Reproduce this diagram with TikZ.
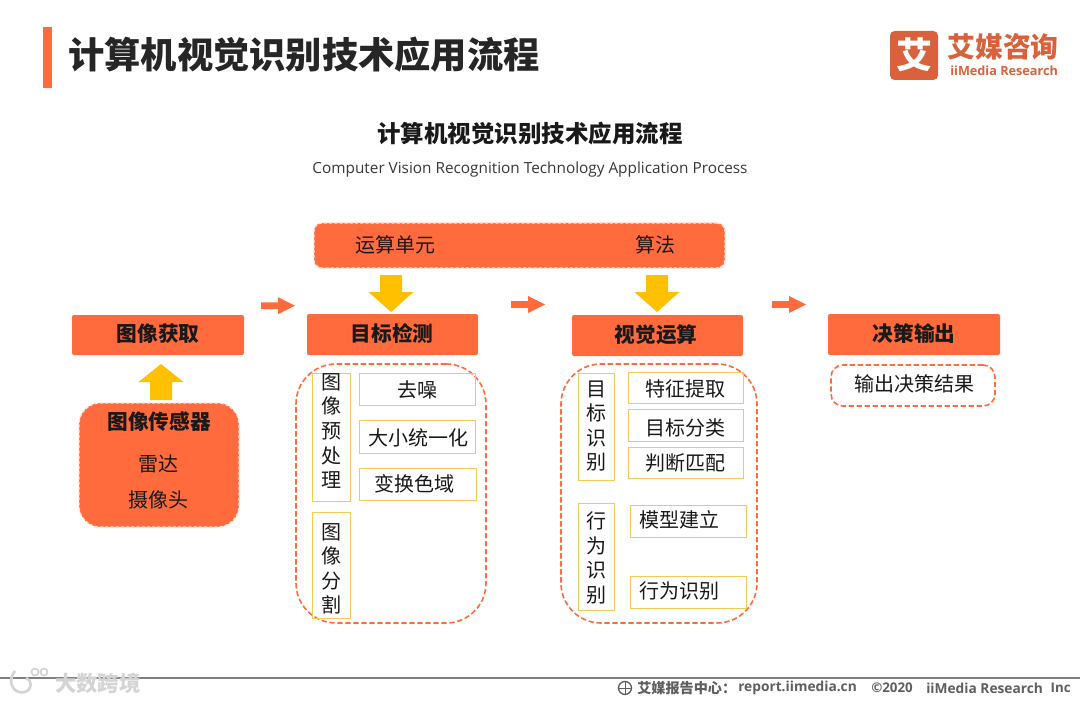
\documentclass[tikz,border=0pt]{standalone}
\usepackage{fontspec}
\setmainfont{Noto Sans CJK SC}
\newfontfamily\latinf{Open Sans}
\usetikzlibrary{calc}
\definecolor{org}{HTML}{FF6B3D}
\definecolor{ylw}{HTML}{F3C95A}
\definecolor{gld}{HTML}{FFC000}
\definecolor{logoc}{HTML}{D9623C}
\definecolor{foot}{HTML}{5F5F5F}
\definecolor{wm}{HTML}{D4D4D4}
\tikzset{
  x=0.75pt,y=-0.75pt,
  solidbox/.style={fill=org,rounded corners=1.5pt,inner sep=0pt},
  panelbox/.style={fill=org,draw=white!80!org,line width=1pt,dash pattern=on 2.5pt off 1.4pt,inner sep=0pt},
  framebox/.style={draw=org,line width=1.2pt,dash pattern=on 4pt off 2pt,inner sep=0pt},
  itembox/.style={draw=ylw,line width=0.75pt,inner sep=0pt},
  lab/.style={inner sep=0pt,font=\fontsize{15}{18.4}\selectfont,align=center,text=black!90},
  blab/.style={lab,font=\fontsize{15.5}{18.4}\selectfont\bfseries},
  smallarrow/.style={fill=org},
  bigarrow/.style={fill=gld}
}
% name, style, x1,y1,x2,y2
\newcommand{\bx}[6]{%
  \pgfmathsetmacro{\bw}{(#5-#3)*0.75}\pgfmathsetmacro{\bh}{(#6-#4)*0.75}%
  \node[#2,minimum width=\bw pt,minimum height=\bh pt] (#1) at ({(#3+#5)/2},{(#4+#6)/2}) {};}
% tip coordinate name, tip x, tip y
\newcommand{\rarrow}[3]{%
  \coordinate (#1) at (#2,#3);
  \fill[smallarrow] (#1) -- ++(-17,-8.5) -- ++(0,5.2) -- ++(-17,0) -- ++(0,6.6) -- ++(17,0) -- ++(0,5.2) -- cycle;}
\newcommand{\darrow}[3]{%
  \coordinate (#1) at (#2,#3);
  \fill[bigarrow] (#1) -- ++(-22.5,-20) -- ++(11.5,0) -- ++(0,-17) -- ++(22,0) -- ++(0,17) -- ++(11.5,0) -- cycle;}
\newcommand{\uarrow}[3]{%
  \coordinate (#1) at (#2,#3);
  \fill[bigarrow] (#1) -- ++(-22.5,18) -- ++(11.5,0) -- ++(0,18) -- ++(22,0) -- ++(0,-18) -- ++(11.5,0) -- cycle;}
\begin{document}
\begin{tikzpicture}
\useasboundingbox (0,0) rectangle (1080,702);
\fill[white] (0,0) rectangle (1080,702);
% header
\bx{bar}{fill=org,inner sep=0pt}{43}{27}{52}{88}
\node[inner sep=0pt,anchor=west,font=\fontsize{27.2}{30}\selectfont\bfseries,text=black!85] (title) at (68,55) {计算机视觉识别技术应用流程};
% logo
\bx{logosq}{fill=logoc,rounded corners=3.5pt,inner sep=0pt}{890}{31}{938}{80}
\node[inner sep=0pt,text=white,font=\fontsize{27}{30}\selectfont\bfseries] (logochar) at (914,55) {艾};
\node[inner sep=0pt,anchor=west,text=logoc,font=\fontsize{20.9}{24}\selectfont\bfseries] (logocn) at (947,47) {艾媒咨询};
\node[inner sep=0pt,anchor=west,text=logoc,font=\latinf\fontsize{9.5}{12}\selectfont\bfseries] (logoen) at (950,71) {iiMedia Research};
% subtitle
\node[inner sep=0pt,font=\fontsize{17.6}{20}\selectfont\bfseries,text=black!90] (sub) at (530,134) {计算机视觉识别技术应用流程};
\node[inner sep=0pt,font=\latinf\fontsize{11.5}{14}\selectfont,text=black!78] (suben) at (530,170) {Computer Vision Recognition Technology Application Process};
% top panel
\bx{top}{panelbox,rounded corners=6pt}{314}{223}{725}{268}
\node[lab] (t1) at (395,245) {运算单元};
\node[lab] (t2) at (655,245) {算法};
% headers
\bx{h1}{solidbox}{72}{315}{244}{355}
\node[blab] (h1t) at (158,334) {图像获取};
\bx{h2}{solidbox}{307}{314}{478}{355}
\node[blab] (h2t) at (392,334) {目标检测};
\bx{h3}{solidbox}{572}{315}{743}{356}
\node[blab] (h3t) at (656,335) {视觉运算};
\bx{h4}{solidbox}{828}{314}{1000}{355}
\node[blab] (h4t) at (914,334) {决策输出};
% arrows
\rarrow{a1}{295}{305.7}
\rarrow{a2}{545}{304.5}
\rarrow{a3}{806}{304.5}
\darrow{d1}{391}{312}
\darrow{d2}{657}{312}
\uarrow{u1}{161}{364}
% sensor panel
\bx{sensor}{panelbox,rounded corners=16pt}{79}{403}{239}{527}
\node[blab] (s0) at (159,422) {图像传感器};
\node[lab] (s1) at (158,464) {雷达};
\node[lab] (s2) at (158,500) {摄像头};
% frames
\bx{f1}{framebox,rounded corners=30pt}{296}{364}{486}{623}
\bx{f2}{framebox,rounded corners=30pt}{561}{364}{757}{623}
\bx{f3}{framebox,rounded corners=9pt}{831}{365}{995}{406}
\node[lab] (f3t) at (914,384) {输出决策结果};
% left items
\bx{b1}{itembox}{312}{373}{350}{501}
\node[lab] (b1t) at (331,431) {图\\像\\预\\处\\理};
\bx{b2}{itembox}{312}{512}{350}{618}
\node[lab] (b2t) at (331,569) {图\\像\\分\\割};
\bx{b3}{itembox}{359}{373}{475}{405}
\node[lab] (b3t) at (417,390) {去噪};
\bx{b4}{itembox}{359}{420}{475}{453}
\node[lab] (b4t) at (418,438) {大小统一化};
\bx{b5}{itembox}{359}{468}{476}{500}
\node[lab] (b5t) at (414,484) {变换色域};
% right items
\bx{c1}{itembox}{578}{373}{614}{480}
\node[lab] (c1t) at (596,426) {目\\标\\识\\别};
\bx{c2}{itembox}{578}{503}{614}{610}
\node[lab] (c2t) at (596,558) {行\\为\\识\\别};
\bx{c3}{itembox}{628}{372}{743}{403}
\node[lab] (c3t) at (685,389) {特征提取};
\bx{c4}{itembox}{628}{409}{743}{441}
\node[lab] (c4t) at (685,428) {目标分类};
\bx{c5}{itembox}{628}{447}{743}{478}
\node[lab] (c5t) at (685,463) {判断匹配};
\bx{c6}{itembox}{630}{505}{746}{537}
\node[lab] (c6t) at (679,520) {模型建立};
\bx{c7}{itembox}{630}{576}{746}{608}
\node[lab] (c7t) at (679,591) {行为识别};
% footer
\coordinate (fl) at (0,678);
\coordinate (fr) at (1080,678);
\draw[black!50,line width=1.4pt] (fl) -- (fr);
\node[inner sep=0pt,anchor=west,text=wm,font=\fontsize{16}{18}\selectfont\bfseries] (wmk) at (55,683) {大数跨境};
\draw[wm,line width=2pt] (15,671) .. controls (6,682) and (14,695) .. (25,692) .. controls (33,689) and (32,680) .. (26,678);
\draw[wm,line width=1.3pt] (35,672) circle[radius=3.5] (44,672) circle[radius=3.5];
\draw[foot,line width=1pt] (625,688) circle[radius=6.5];
\draw[foot,line width=0.6pt] (618.5,688) -- (631.5,688) (625,681.5) -- (625,694.5);
\node[inner sep=0pt,anchor=west,text=foot,font=\fontsize{10.6}{13}\selectfont\bfseries] (ft1) at (637,688) {艾媒报告中心：};
\node[inner sep=0pt,anchor=west,text=foot,font=\latinf\fontsize{10.3}{13}\selectfont\bfseries] (ft2) at (738,688) {report.iimedia.cn};
\node[inner sep=0pt,anchor=west,text=foot,font=\latinf\fontsize{10}{13}\selectfont\bfseries] (ft3) at (871,688) {©2020};
\node[inner sep=0pt,anchor=west,text=foot,font=\latinf\fontsize{10.3}{13}\selectfont\bfseries] (ft4) at (926,688) {iiMedia Research};
\node[inner sep=0pt,anchor=east,text=foot,font=\latinf\fontsize{10}{13}\selectfont\bfseries] (ft5) at (1071,688) {Inc};
\end{tikzpicture}
\end{document}
